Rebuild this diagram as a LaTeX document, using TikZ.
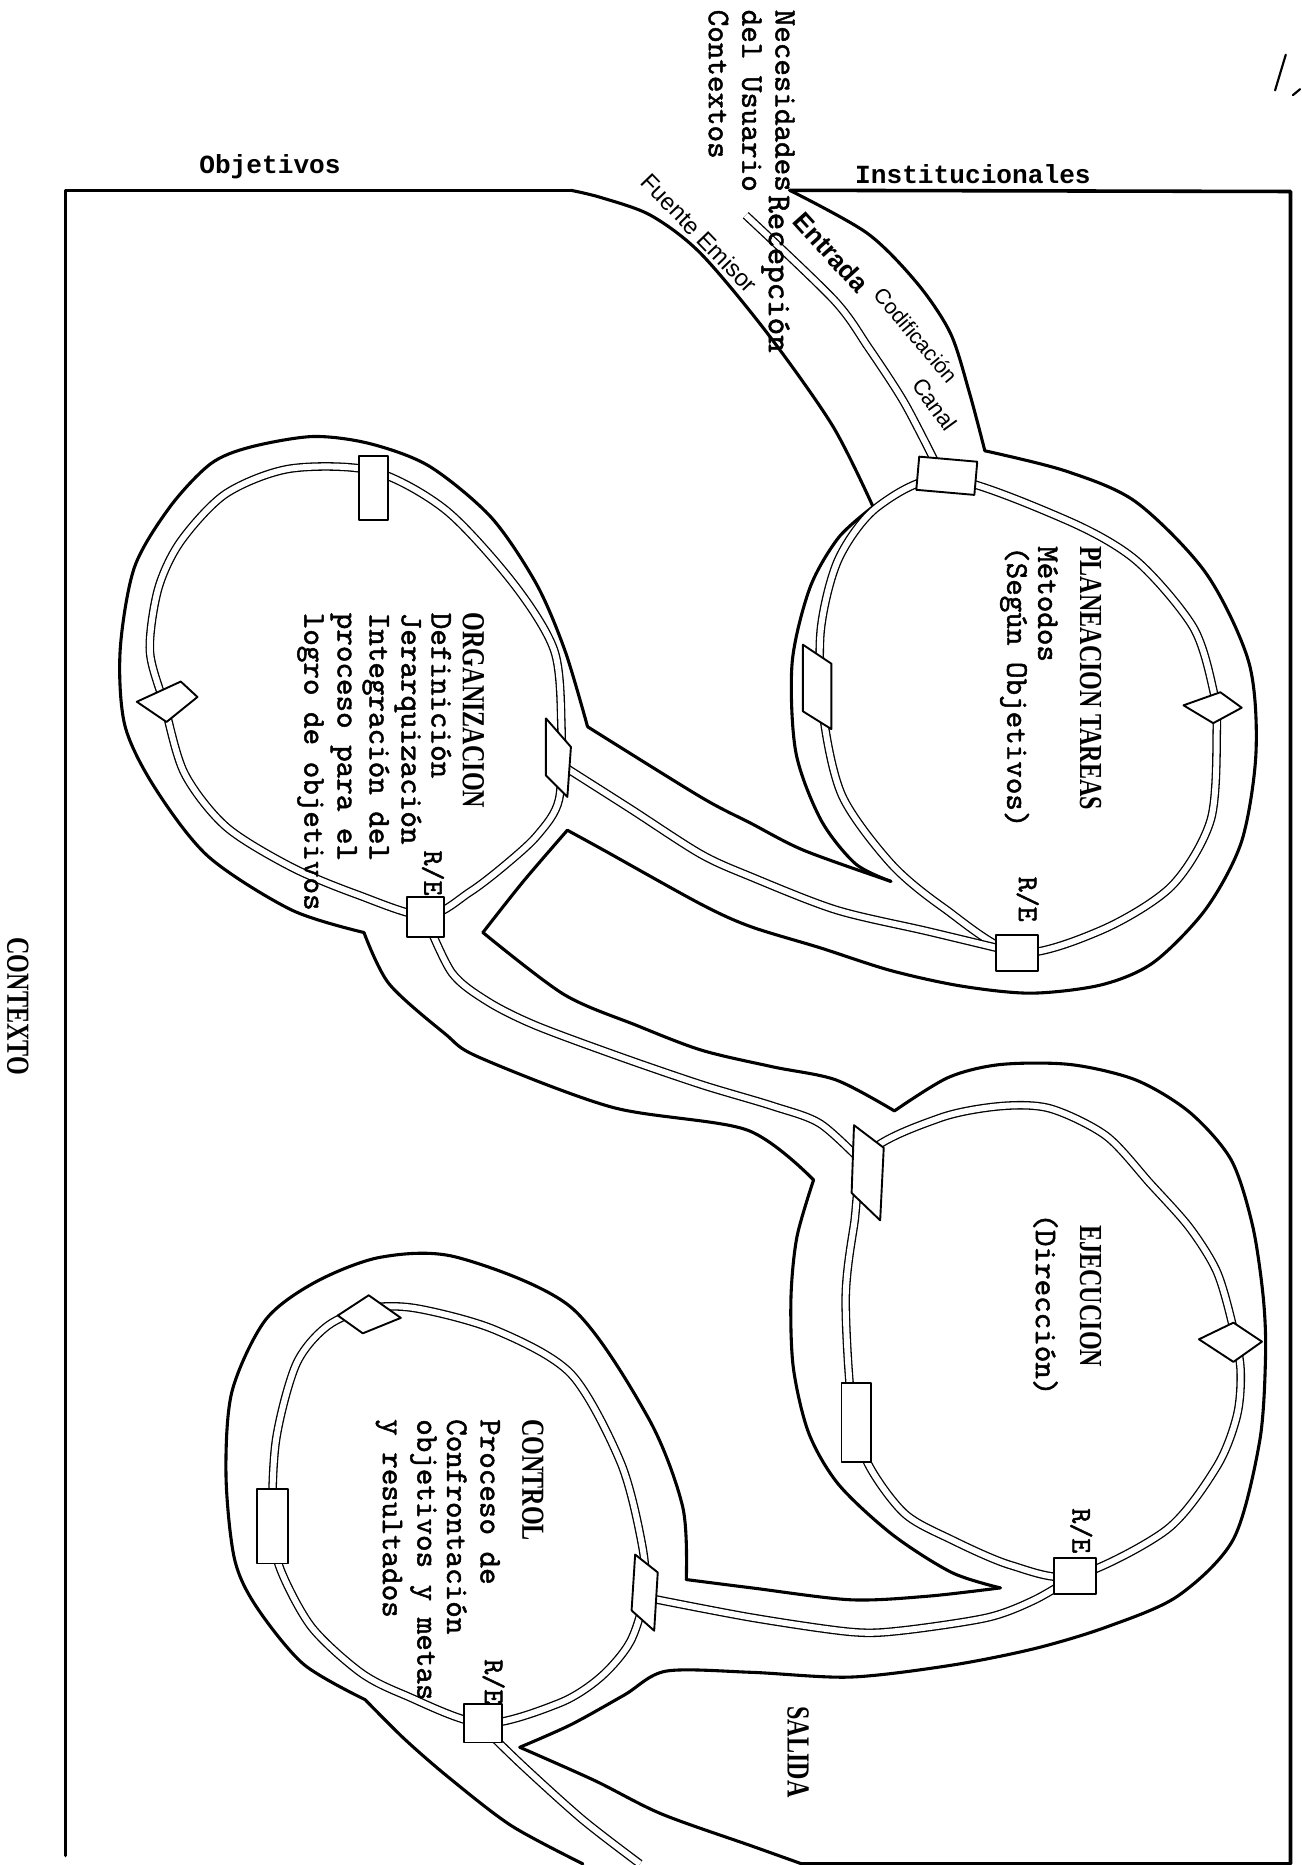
\documentclass[tikz,border=0pt]{standalone}
\usepackage{fontspec}
\setmonofont[FakeBold=1.5]{lmmono10-regular.otf}
\newfontfamily\headfont[FakeStretch=0.75]{Liberation Serif Bold}
\newfontfamily\labfont{Liberation Mono}
\newfontfamily\handfont{Liberation Sans}
\begin{document}
\begin{tikzpicture}[x=1pt,y=-1pt,
  frame/.style={line width=3pt, line cap=round, line join=round},
  outer/.style={line width=2.6pt, line cap=round, line join=round},
  rail/.style={line width=1.1pt, double=white, double distance=5pt},
  box/.style={draw, line width=1.6pt, fill=white, line join=round},
  mono/.style={font=\fontsize{26.5}{30}\selectfont\ttfamily, inner sep=0pt, rotate=-90, anchor=west},
  head/.style={font=\fontsize{27}{30}\selectfont\headfont, inner sep=0pt, rotate=-90, anchor=west},
  re/.style={font=\fontsize{24}{26}\selectfont\ttfamily, inner sep=0pt, rotate=-90}
]
\useasboundingbox (0,0) rectangle (1094,1568);
\fill[white] (0,0) rectangle (1094,1568);

% ---------- frame ----------
\draw[frame] (480,160) -- (55,160) -- (55,1560);
\draw[frame] (664,160) -- (1085,161) -- (1085,1567) -- (674,1567);

% ---------- entrada channel ----------
\draw[outer] plot[smooth] coordinates {(480,160) (505,166) (547,181) (589,213) (645,280) (700,358) (734,426)};
\draw[outer] plot[smooth] coordinates {(664,160) (729,196) (771,238) (799,280) (815,330) (828,379)};
\draw[rail] plot[smooth] coordinates {(627,181) (701,252) (730,292) (760,338) (786,388)};

% ---------- PLANEACION ----------
\draw[outer] plot[smooth] coordinates {(734,426) (705,452) (681,494) (666,557) (669,632) (690,689) (719,726) (749,741)};
\draw[outer] plot[smooth] coordinates {(828,379) (896,396) (955,422) (1014,482) (1050,557) (1056,632) (1044,707) (1014,764) (970,809) (926,828) (867,835) (808,829) (749,816) (690,797) (631,779) (589,760) (508,715) (477,698)};
\draw[outer] plot[smooth] coordinates {(494,611) (589,670) (631,692) (676,715) (749,741)};
\draw[rail] plot[smooth cycle] coordinates {(796,402) (896,437) (955,471) (1003,527) (1020,580) (1023,613) (1018,689) (985,745) (926,782) (855,801) (793,763) (749,726) (708,669) (692,600) (690,530) (705,470) (738,426)};
\draw[rail] plot[smooth] coordinates {(475,645) (530,680) (589,718) (631,737) (703,765) (780,783) (855,801)};

% ---------- ORGANIZACION ----------
\draw[outer] plot[smooth] coordinates {(494,611) (475,547) (451,491) (413,435) (361,392) (311,373) (263,367) (210,376) (177,390) (143,426) (113,477) (101,547) (105,610) (130,662) (175,720) (245,765) (306,784)};
\draw[outer] plot[smooth] coordinates {(306,784) (327,827) (374,869) (403,889) (515,931) (628,950) (684,992)};
\draw[outer] plot[smooth] coordinates {(477,698) (440,741) (406,784)};
\draw[outer] plot[smooth] coordinates {(406,784) (474,836) (535,862) (590,883) (650,897) (703,908) (752,934)};
\draw[rail] plot[smooth cycle] coordinates {(314,396) (375,429) (432,491) (466,547) (472,610) (470,672) (452,702) (425,727) (395,750) (358,770) (300,752) (245,729) (190,695) (155,650) (138,592) (126,547) (133,495) (152,455) (190,415) (244,394)};
\draw[rail] plot[smooth] coordinates {(358,772) (380,818) (410,842) (450,862) (520,888) (590,912) (650,930) (690,945) (728,980)};

% ---------- EJECUCION ----------
\draw[outer] plot[smooth] coordinates {(752,934) (797,906) (841,895) (900,895) (955,908) (1000,935) (1035,975) (1053,1030) (1062,1090) (1064,1140) (1059,1212) (1037,1294) (990,1342) (930,1368) (870,1386) (800,1400) (715,1410) (632,1406) (560,1405) (525,1425) (480,1450) (437,1469)};
\draw[outer] plot[smooth] coordinates {(437,1469) (500,1497) (556,1525) (632,1552) (674,1567)};
\draw[outer] plot[smooth] coordinates {(684,992) (670,1040) (665,1091) (667,1150) (680,1205) (705,1248) (750,1290) (800,1322) (841,1335)};
\draw[outer] plot[smooth] coordinates {(577,1328) (632,1335) (715,1345) (780,1342) (841,1335)};
\draw[rail] plot[smooth cycle] coordinates {(730,970) (790,940) (841,930) (883,932) (930,955) (967,995) (1000,1032) (1023,1069) (1036,1113) (1043,1151) (1040,1190) (1023,1233) (981,1286) (904,1325) (850,1316) (799,1294) (760,1272) (729,1229) (716,1180) (711,1091) (718,1030)};
\draw[rail] plot[smooth] coordinates {(543,1343) (632,1360) (715,1372) (757,1371) (830,1360) (870,1345) (904,1325)};

% ---------- CONTROL ----------
\draw[outer] plot[smooth] coordinates {(577,1328) (574,1267) (545,1192) (480,1099) (384,1057) (320,1057) (265,1078) (223,1110) (195,1170) (190,1240) (197,1310) (215,1350) (255,1399) (307,1429)};
\draw[outer] plot[smooth] coordinates {(307,1429) (340,1462) (378,1495) (430,1535) (490,1567)};
\draw[rail] plot[smooth cycle] coordinates {(406,1449) (340,1425) (303,1406) (262,1368) (236,1320) (229,1283) (232,1211) (249,1147) (275,1115) (310,1100) (350,1100) (416,1118) (480,1155) (522,1230) (540,1300) (542,1340) (530,1380) (505,1410) (470,1432)};
\draw[rail] plot[smooth] coordinates {(406,1452) (440,1485) (490,1530) (538,1567)};

% ---------- boxes ----------
\node[box, minimum width=49pt, minimum height=28pt, rotate=-5] (pTop) at (796,400) {};
\draw[box] (995,593) -- (1026,582) -- (1044,595) -- (1020,608) -- cycle;
\draw[box] (675,542) -- (699,558) -- (699,613) -- (675,598) -- cycle;
\node[box, minimum width=35pt, minimum height=30pt] (pRE) at (855,801) {};

\node[box, minimum width=24pt, minimum height=54pt] (oTop) at (314,410) {};
\draw[box] (115,590) -- (152,573) -- (166,586) -- (140,607) -- cycle;
\draw[box] (459,604) -- (480,628) -- (477,670) -- (459,652) -- cycle;
\node[box, minimum width=31pt, minimum height=34pt] (oRE) at (358,771) {};

\draw[box] (718,946) -- (743,965) -- (740,1026) -- (716,1003) -- cycle;
\node[box, minimum width=25pt, minimum height=66pt] (eRect) at (720,1196) {};
\draw[box] (1008,1126) -- (1037,1112) -- (1061,1128) -- (1037,1145) -- cycle;
\node[box, minimum width=35pt, minimum height=31pt] (eRE) at (904,1325) {};

\draw[box] (284,1106) -- (310,1089) -- (337,1108) -- (305,1121) -- cycle;
\node[box, minimum width=26pt, minimum height=63pt] (cRect) at (229,1283) {};
\draw[box] (534,1307) -- (553,1322) -- (550,1371) -- (531,1354) -- cycle;
\node[box, minimum width=32pt, minimum height=32pt] (cRE) at (406,1449) {};

% ---------- texts ----------
\node[mono] (nec1) at (660,8) {Necesidades};
\node[mono] (nec2) at (632,8) {del Usuario};
\node[mono] (nec3) at (604,8) {Contextos};
\node[mono, font=\fontsize{28}{30}\selectfont\ttfamily] (rec) at (652,164) {Recepción};
\node[font=\fontsize{22}{26}\selectfont\labfont\bfseries, inner sep=0pt] (obj) at (227,140) {Objetivos};
\node[font=\fontsize{22}{26}\selectfont\labfont\bfseries, inner sep=0pt] (inst) at (818,146) {Institucionales};
\node[font=\fontsize{20}{24}\selectfont\handfont, inner sep=0pt, rotate=-46] (fue) at (588,196) {Fuente Emisor};
\node[font=\fontsize{22}{26}\selectfont\handfont\bfseries, inner sep=0pt, rotate=-48] (ent) at (699,212) {Entrada};
\node[font=\fontsize{18}{20}\selectfont\handfont, inner sep=0pt, rotate=-50] (cod) at (770,282) {Codificación};
\node[font=\fontsize{19}{20}\selectfont\handfont, inner sep=0pt, rotate=-54] (can) at (786,340) {Canal};

\node[head] (pl1) at (917,459) {PLANEACION TAREAS};
\node[mono] (pl2) at (881,459) {Métodos};
\node[mono] (pl3) at (853,459) {(Según Objetivos)};

\node[head] (or1) at (398,515) {ORGANIZACION};
\node[mono] (or2) at (371,515) {Definición};
\node[mono] (or3) at (343,515) {Jerarquización};
\node[mono] (or4) at (316,515) {Integración del};
\node[mono] (or5) at (289,515) {proceso para el};
\node[mono] (or6) at (261,515) {logro de objetivos};

\node[head] (ej1) at (917,1030) {EJECUCION};
\node[mono] (ej2) at (879,1020) {(Dirección)};

\node[head] (co1) at (448,1193) {CONTROL};
\node[mono] (co2) at (412,1193) {Proceso de};
\node[mono] (co3) at (384,1193) {Confrontación};
\node[mono] (co4) at (356,1193) {objetivos y metas};
\node[mono] (co5) at (327,1193) {y resultados};

\node[re] (rePl) at (864,756) {R/E};
\node[re] (reOr) at (364,734) {R/E};
\node[re] (reEj) at (909,1287) {R/E};
\node[re] (reCo) at (415,1414) {R/E};

\node[head, anchor=center] (ctx) at (15,846) {CONTEXTO};
\node[head, anchor=center] (sal) at (671,1473) {SALIDA};

% page mark
\draw[line width=1.8pt, line cap=round] (1072,76) -- (1081,46);
\draw[line width=1.8pt, line cap=round] (1087,80) -- (1093,75);
\end{tikzpicture}
\end{document}
